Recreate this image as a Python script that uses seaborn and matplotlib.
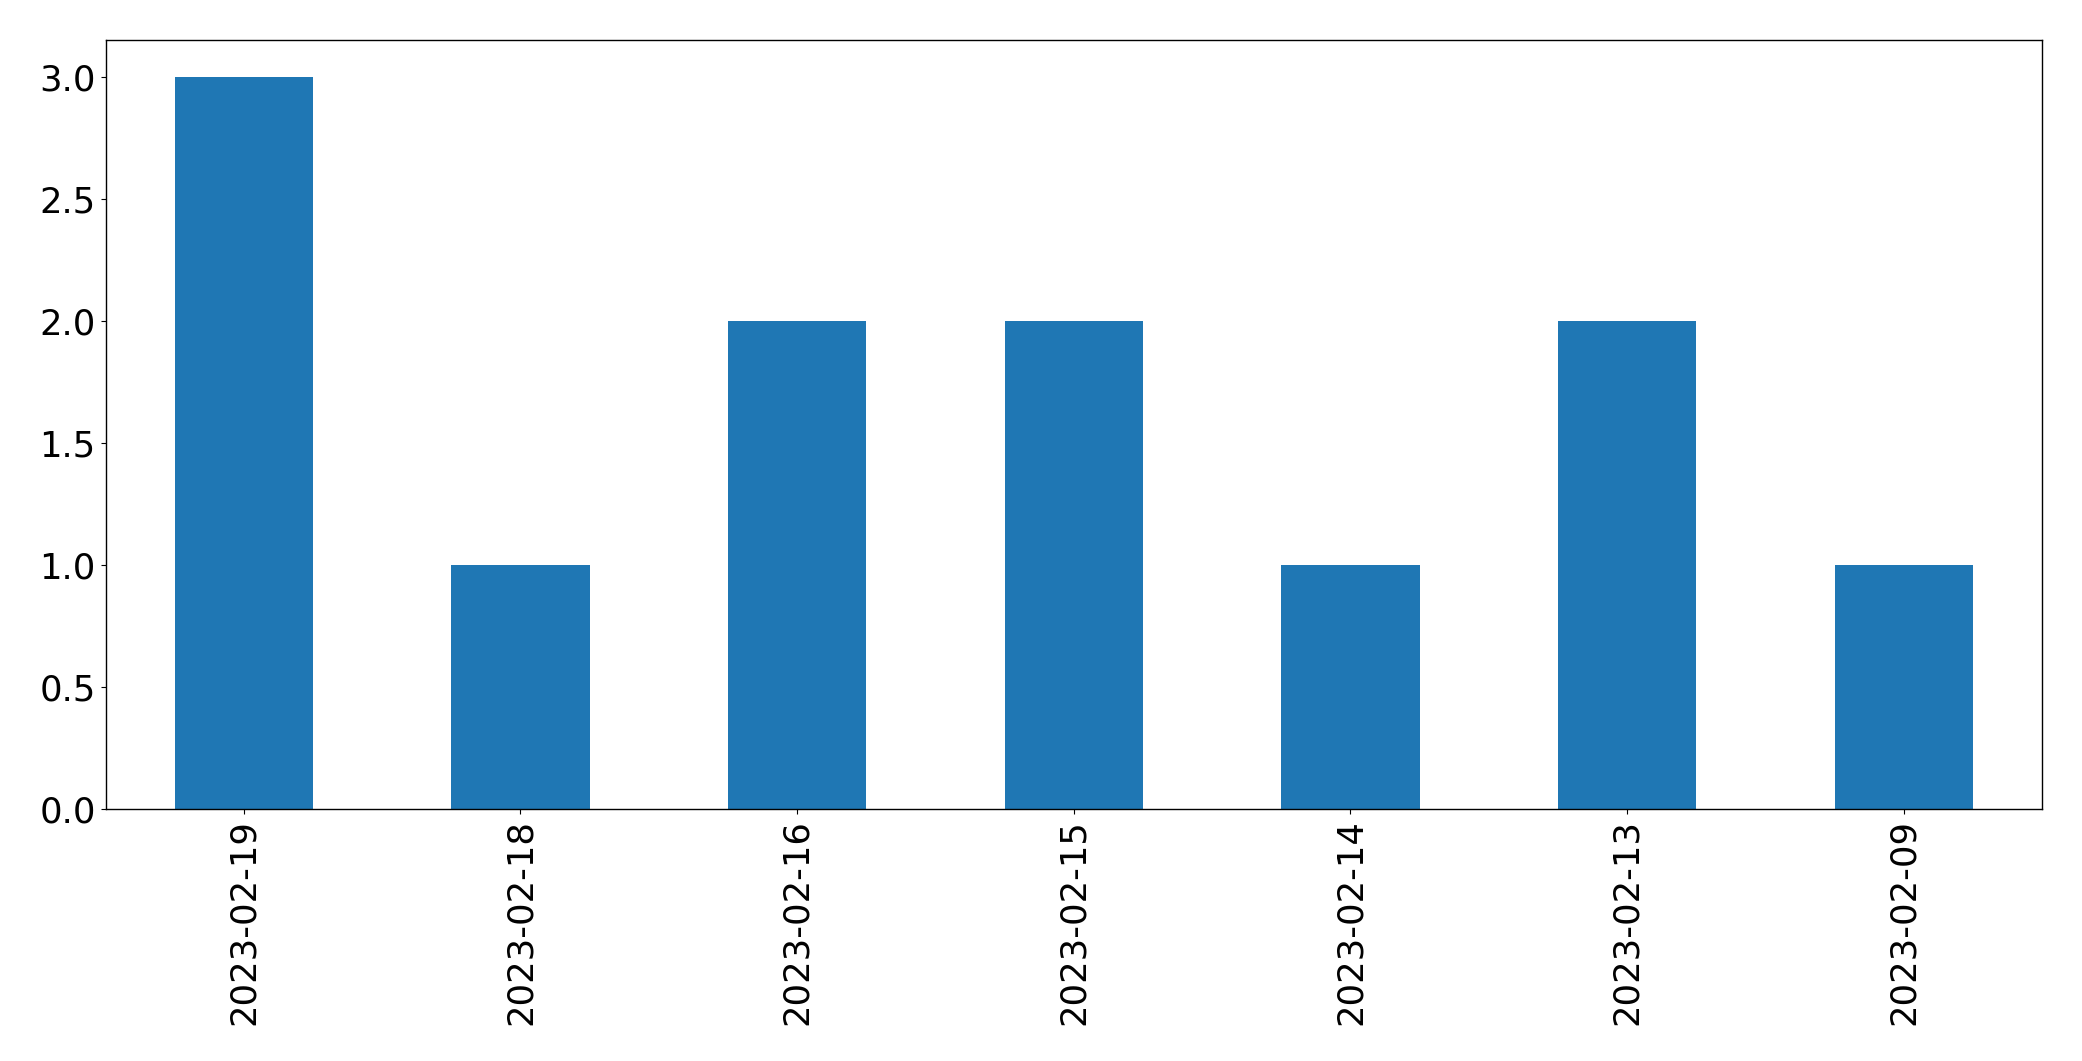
import matplotlib
matplotlib.use("Agg")
import matplotlib.pyplot as plt
import seaborn as sns
import pandas as pd

dates = ["2023-02-19", "2023-02-18", "2023-02-16", "2023-02-15",
         "2023-02-14", "2023-02-13", "2023-02-09"]
counts = [3, 1, 2, 2, 1, 2, 1]

df = pd.DataFrame({"date": dates, "count": counts})

fig = plt.figure(figsize=(20.82, 10.61), dpi=100)
ax = fig.add_axes([105.5 / 2082, 1 - 809 / 1061, (2042 - 105.5) / 2082, (809 - 40) / 1061])
sns.barplot(data=df, x="date", y="count", order=dates, color="#1f77b4",
            saturation=1, width=0.5, ax=ax, errorbar=None)
ax.set_xlim(-0.5, len(dates) - 0.5)
ax.set_ylim(0, 3.15)
ax.set_yticks([0, 0.5, 1.0, 1.5, 2.0, 2.5, 3.0])
ax.set_xlabel("")
ax.set_ylabel("")
for s in ax.spines.values():
    s.set_color("black")
    s.set_linewidth(1.0)
ax.tick_params(axis="both", labelsize=25.5, colors="black", length=3.5)
ax.tick_params(axis="x", labelrotation=90)
fig.savefig("out.png", dpi=100)
